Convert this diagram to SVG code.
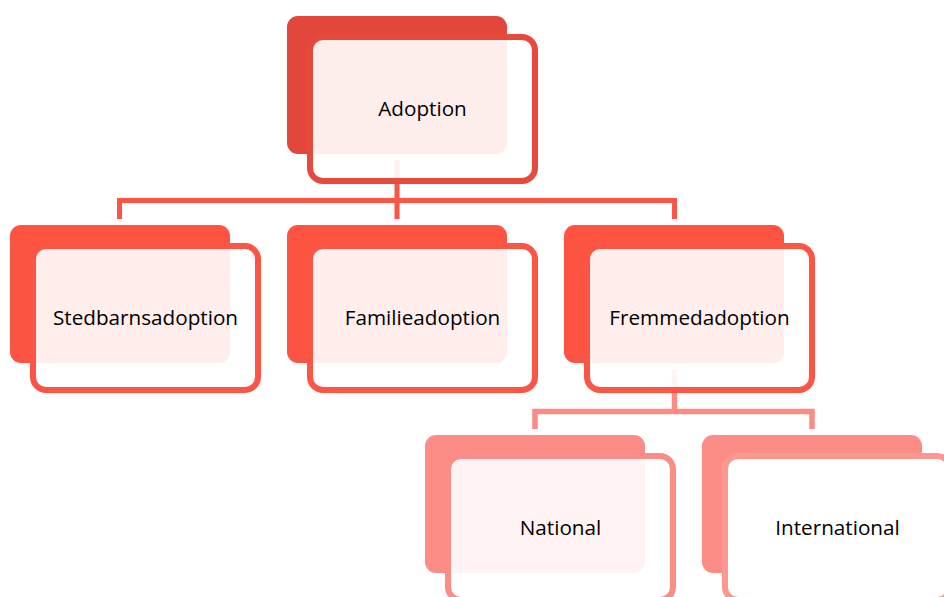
<svg xmlns="http://www.w3.org/2000/svg" width="944" height="597" viewBox="0 0 944 597">
<style>
.back{stroke:none}
.front{fill:#ffffff;fill-opacity:0.9;stroke-width:6}
.lbl{font-family:"Open Sans","Noto Sans","Liberation Sans",sans-serif;font-size:20.7px;fill:#000000;text-anchor:middle}
.c1{fill:none;stroke:#FC5546;stroke-width:5;stroke-linejoin:miter}
.c2{fill:none;stroke:#FB8C84;stroke-width:5.5;stroke-linejoin:miter}
.l0 .back{fill:#E3463A}.l0 .front{stroke:#E54A3D}
.l1 .back{fill:#FC5343}.l1 .front{stroke:#FC5545}
.l2 .back{fill:#FC8D86}.l2 .front{stroke:#FC8D86}
</style>
<rect width="944" height="597" fill="#ffffff"/>
<g id="connectors">
<path class="c1" d="M397,160 V219 M119.5,219 V200.5 H674.5 V219"/>
<path class="c2" d="M674.5,370 V411.5 M535,429 V411.5 H812 V429"/>
</g>
<g id="node-adoption" class="l0">
<rect class="back" x="287" y="16" width="220" height="138" rx="11"/>
<rect class="front" x="310" y="37" width="225" height="144" rx="13"/>
<text class="lbl" x="422.5" y="115.5">Adoption</text>
</g>
<g id="node-stedbarnsadoption" class="l1">
<rect class="back" x="10" y="225" width="220" height="138" rx="11"/>
<rect class="front" x="33" y="246" width="225" height="144" rx="13"/>
<text class="lbl" x="145.5" y="325">Stedbarnsadoption</text>
</g>
<g id="node-familieadoption" class="l1">
<rect class="back" x="287" y="225" width="220" height="138" rx="11"/>
<rect class="front" x="310" y="246" width="225" height="144" rx="13"/>
<text class="lbl" x="422.5" y="325">Familieadoption</text>
</g>
<g id="node-fremmedadoption" class="l1">
<rect class="back" x="564" y="225" width="220" height="138" rx="11"/>
<rect class="front" x="587" y="246" width="225" height="144" rx="13"/>
<text class="lbl" x="699.5" y="325">Fremmedadoption</text>
</g>
<g id="node-national" class="l2">
<rect class="back" x="425" y="435" width="220" height="138" rx="11"/>
<rect class="front" x="448" y="456" width="225" height="144" rx="13"/>
<text class="lbl" x="560.5" y="534.5">National</text>
</g>
<g id="node-international" class="l2">
<rect class="back" x="702" y="435" width="220" height="138" rx="11"/>
<rect class="front" x="725" y="456" width="225" height="144" rx="13" style="fill-opacity:1;stroke:#FD9890"/>
<text class="lbl" x="837.5" y="534.5">International</text>
</g>
</svg>
